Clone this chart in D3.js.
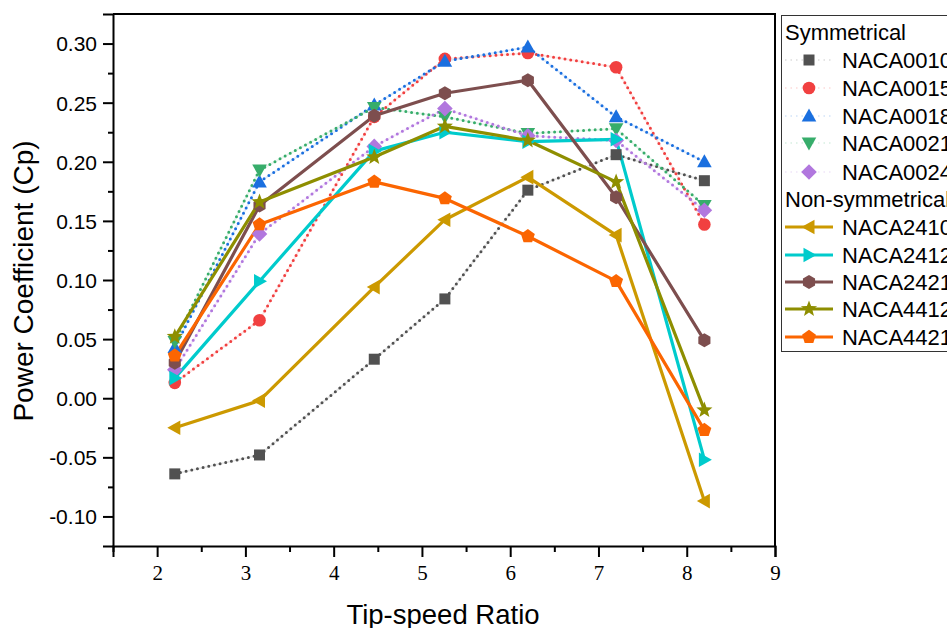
<!DOCTYPE html>
<html>
<head>
<meta charset="utf-8">
<script src="https://cdn.jsdelivr.net/npm/d3@7"></script>
<style>
  html, body { margin: 0; padding: 0; background: #fff; }
  svg { display: block; }
  text { font-family: "Liberation Sans", Arial, sans-serif; fill: #000; }
  .serif { font-family: "Liberation Serif", "Times New Roman", serif; }
</style>
</head>
<body>
<svg id="chart" width="947" height="628"></svg>
<script>
// Tip-speed ratios at which each airfoil was evaluated
const tsr = [2.2, 3.16, 4.46, 5.26, 6.2, 7.2, 8.2];

// Power coefficient (Cp) per airfoil
const naca0010 = [-0.064, -0.048, 0.033, 0.084, 0.176, 0.206, 0.184];
const naca0015 = [0.013, 0.066, 0.238, 0.287, 0.292, 0.280, 0.147];
const naca0018 = [0.043, 0.183, 0.248, 0.285, 0.297, 0.238, 0.200];
const naca0021 = [0.048, 0.193, 0.246, 0.238, 0.224, 0.228, 0.163];
const naca0024 = [0.024, 0.139, 0.213, 0.245, 0.222, 0.218, 0.159];
const naca2410 = [-0.025, -0.002, 0.094, 0.151, 0.187, 0.138, -0.087];
const naca2412 = [0.017, 0.099, 0.209, 0.225, 0.217, 0.219, -0.052];
const naca2421 = [0.030, 0.163, 0.239, 0.258, 0.269, 0.170, 0.049];
const naca4412 = [0.052, 0.166, 0.204, 0.230, 0.218, 0.183, -0.010];
const naca4421 = [0.036, 0.147, 0.183, 0.169, 0.137, 0.099, -0.027];

// Axis ticks
const xTicks = [2, 3, 4, 5, 6, 7, 8, 9];
const yTicks = [-0.10, -0.05, 0.00, 0.05, 0.10, 0.15, 0.20, 0.25, 0.30];

// Series groups
const symmetrical = [
  { name: "NACA0010", values: naca0010, color: "#515151", shape: "square" },
  { name: "NACA0015", values: naca0015, color: "#F14040", shape: "circle" },
  { name: "NACA0018", values: naca0018, color: "#1A6FDF", shape: "triUp" },
  { name: "NACA0021", values: naca0021, color: "#37AD6B", shape: "triDown" },
  { name: "NACA0024", values: naca0024, color: "#B177DE", shape: "diamond" }
];
const nonSymmetrical = [
  { name: "NACA2410", values: naca2410, color: "#CC9900", shape: "triLeft" },
  { name: "NACA2412", values: naca2412, color: "#00CBCC", shape: "triRight" },
  { name: "NACA2421", values: naca2421, color: "#7D4E4E", shape: "hexagon" },
  { name: "NACA4412", values: naca4412, color: "#8E8E00", shape: "star" },
  { name: "NACA4421", values: naca4421, color: "#FB6501", shape: "pentagon" }
];

const svg = d3.select("#chart");
const plot = { left: 113, right: 775, top: 14, bottom: 546 };

const x = d3.scaleLinear().domain([1.5, 9]).range([plot.left, plot.right]);
const y = d3.scaleLinear().domain([-0.125, 0.325]).range([plot.bottom, plot.top]);

// Marker outlines, centred on (0,0)
function poly(pts) { return "M" + pts.map(p => p[0].toFixed(2) + "," + p[1].toFixed(2)).join("L") + "Z"; }
function regular(n, r, rot) {
  const pts = [];
  for (let i = 0; i < n; i++) {
    const a = rot + i * 2 * Math.PI / n;
    pts.push([r * Math.sin(a), -r * Math.cos(a)]);
  }
  return poly(pts);
}
const shapes = {
  square: () => poly([[-5.5, -5.5], [5.5, -5.5], [5.5, 5.5], [-5.5, 5.5]]),
  circle: () => d3.symbol(d3.symbolCircle, Math.PI * 6.3 * 6.3)(),
  triUp: () => poly([[0, -7.5], [7.3, 5.5], [-7.3, 5.5]]),
  triDown: () => poly([[0, 7.5], [7.3, -5.5], [-7.3, -5.5]]),
  triLeft: () => poly([[-7.5, 0], [5.5, -7.3], [5.5, 7.3]]),
  triRight: () => poly([[7.5, 0], [-5.5, -7.3], [-5.5, 7.3]]),
  diamond: () => poly([[0, -7.8], [7.8, 0], [0, 7.8], [-7.8, 0]]),
  hexagon: () => regular(6, 7, 0),
  pentagon: () => regular(5, 7.3, 0),
  star: () => {
    const pts = [];
    for (let i = 0; i < 10; i++) {
      const r = i % 2 === 0 ? 8.5 : 3.6;
      const a = i * Math.PI / 5;
      pts.push([r * Math.sin(a), -r * Math.cos(a)]);
    }
    return poly(pts);
  }
};

const line = d3.line().x(d => x(d[0])).y(d => y(d[1]));
const pairs = s => tsr.map((t, i) => [t, s.values[i]]);

const gLines = svg.append("g");
const gMarks = svg.append("g");

// Symmetrical airfoils: dotted lines
symmetrical.forEach(s => {
  gLines.append("path").attr("d", line(pairs(s)))
    .attr("fill", "none").attr("stroke", s.color)
    .attr("stroke-width", 2).attr("stroke-opacity", 0.12);
  gLines.append("path").attr("d", line(pairs(s)))
    .attr("fill", "none").attr("stroke", s.color)
    .attr("stroke-width", 3).attr("stroke-linecap", "round")
    .attr("stroke-dasharray", "0 5.8");
});
// Non-symmetrical airfoils: solid lines
nonSymmetrical.forEach(s => {
  gLines.append("path").attr("d", line(pairs(s)))
    .attr("fill", "none").attr("stroke", s.color)
    .attr("stroke-width", 3.2).attr("stroke-linejoin", "round");
});
// Markers
symmetrical.concat(nonSymmetrical).forEach(s => {
  gMarks.selectAll(null).data(pairs(s)).enter().append("path")
    .attr("d", shapes[s.shape]())
    .attr("transform", d => `translate(${x(d[0])},${y(d[1])})`)
    .attr("fill", s.color);
});

// Axes
const xAxis = svg.append("g").attr("transform", `translate(0,${plot.bottom})`)
  .call(d3.axisBottom(x).tickValues(xTicks).tickSize(11).tickPadding(8).tickFormat(d3.format("d")));
xAxis.selectAll("text").attr("class", "serif").style("font-size", "21px");
svg.append("g").attr("transform", `translate(0,${plot.bottom})`)
  .call(d3.axisBottom(x).tickValues(d3.range(1.5, 9, 1)).tickSize(6).tickFormat(""))
  .call(g => g.select(".domain").remove());

const yAxis = svg.append("g").attr("transform", `translate(${plot.left},0)`)
  .call(d3.axisLeft(y).tickValues(yTicks).tickSize(10).tickPadding(6).tickFormat(d => d.toFixed(2)));
yAxis.selectAll("text").style("font-size", "21px").attr("dy", "0.35em");
svg.append("g").attr("transform", `translate(${plot.left},0)`)
  .call(d3.axisLeft(y).tickValues(d3.range(-0.075, 0.32, 0.05)).tickSize(5).tickFormat(""))
  .call(g => g.select(".domain").remove());

svg.selectAll(".domain, .tick line").attr("stroke", "#000").attr("stroke-width", 2);

// Frame on top and right
svg.append("path")
  .attr("d", `M${plot.left},${plot.top}H${plot.right}V${plot.bottom}`)
  .attr("fill", "none").attr("stroke", "#000").attr("stroke-width", 2);

// Axis titles
svg.append("text").attr("x", 443).attr("y", 624).attr("text-anchor", "middle")
  .style("font-size", "27.5px").text("Tip-speed Ratio");
svg.append("text").attr("transform", "translate(33,281) rotate(-90)")
  .attr("text-anchor", "middle").style("font-size", "28px").text("Power Coefficient (Cp)");

// Legend
const lg = svg.append("g");
lg.append("rect").attr("x", 781.5).attr("y", 15.5).attr("width", 200).attr("height", 336)
  .attr("fill", "#fff").attr("stroke", "#333").attr("stroke-width", 1);

const rowY = [60, 88, 116, 143, 172, 227, 255, 282, 309, 337];
lg.append("text").attr("x", 785).attr("y", 32).attr("dy", "0.35em")
  .style("font-size", "22px").text("Symmetrical");
lg.append("text").attr("x", 785).attr("y", 199).attr("dy", "0.35em")
  .style("font-size", "22px").text("Non-symmetrical");

symmetrical.concat(nonSymmetrical).forEach((s, i) => {
  const ry = rowY[i];
  const solid = i >= symmetrical.length;
  if (solid) {
    lg.append("line").attr("x1", 785).attr("x2", 833).attr("y1", ry).attr("y2", ry)
      .attr("stroke", s.color).attr("stroke-width", 3.2);
  } else {
    lg.append("line").attr("x1", 785).attr("x2", 833).attr("y1", ry).attr("y2", ry)
      .attr("stroke", s.color).attr("stroke-width", 2).attr("stroke-opacity", 0.15)
      .attr("stroke-dasharray", "1.5 4");
  }
  lg.append("path").attr("d", shapes[s.shape]())
    .attr("transform", `translate(809,${ry})`).attr("fill", s.color);
  lg.append("text").attr("x", 842).attr("y", ry).attr("dy", "0.35em")
    .style("font-size", "22px").text(s.name);
});
</script>
</body>
</html>
